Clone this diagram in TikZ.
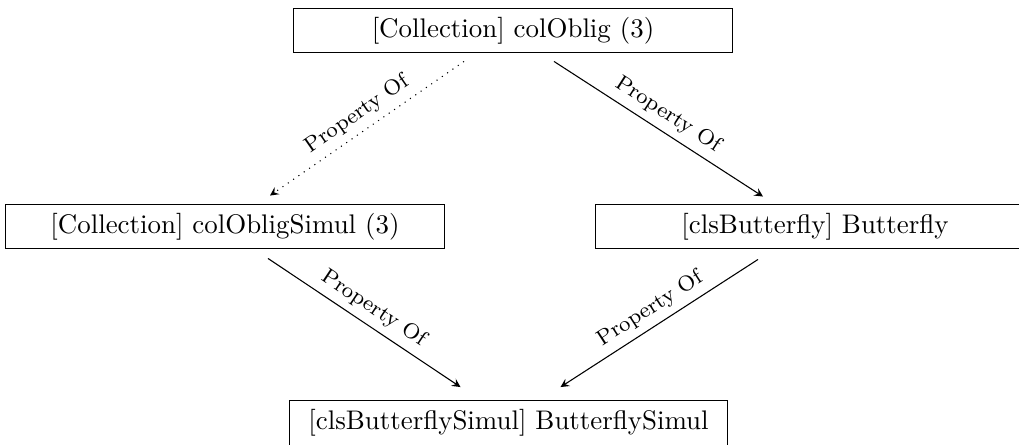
\documentclass[tikz,border=0pt]{standalone}
\usetikzlibrary{calc}
\begin{document}
\begin{tikzpicture}[x=0.3717pt,y=-0.3717pt,
  cbox/.style={draw, line width=0.4pt, minimum width=163pt, minimum height=16.5pt, inner sep=3.33pt},
  rel/.style={line width=0.4pt, -stealth},
  lbl/.style={sloped, above, font=\footnotesize, inner sep=2.5pt}]
\useasboundingbox (0,0) rectangle (1019,444);

% classes and collections
\node[cbox] (top)    at (513,30.5)  {[Collection] colOblig (3)};
\node[cbox] (left)   at (225,226.5) {[Collection] colObligSimul (3)};
\node[cbox] (right)  at (815,226.5) {[clsButterfly] Butterfly};
\node[cbox] (bottom) at (508.5,423) {[clsButterflySimul] ButterflySimul};

% property-of relations
\draw[rel, dotted] ($(top.south)+(-49,8)$) -- node[lbl] {Property Of} ($(left.north)+(45,-8)$);
\draw[rel] ($(top.south)+(41,8)$) -- node[lbl] {Property Of} ($(right.north)+(-52,-7)$);
\draw[rel] ($(left.south)+(43,9)$) -- node[lbl] {Property Of} ($(bottom.north)+(-48,-13)$);
\draw[rel] ($(right.south)+(-57,10)$) -- node[lbl] {Property Of} ($(bottom.north)+(52,-13)$);
\end{tikzpicture}
\end{document}
